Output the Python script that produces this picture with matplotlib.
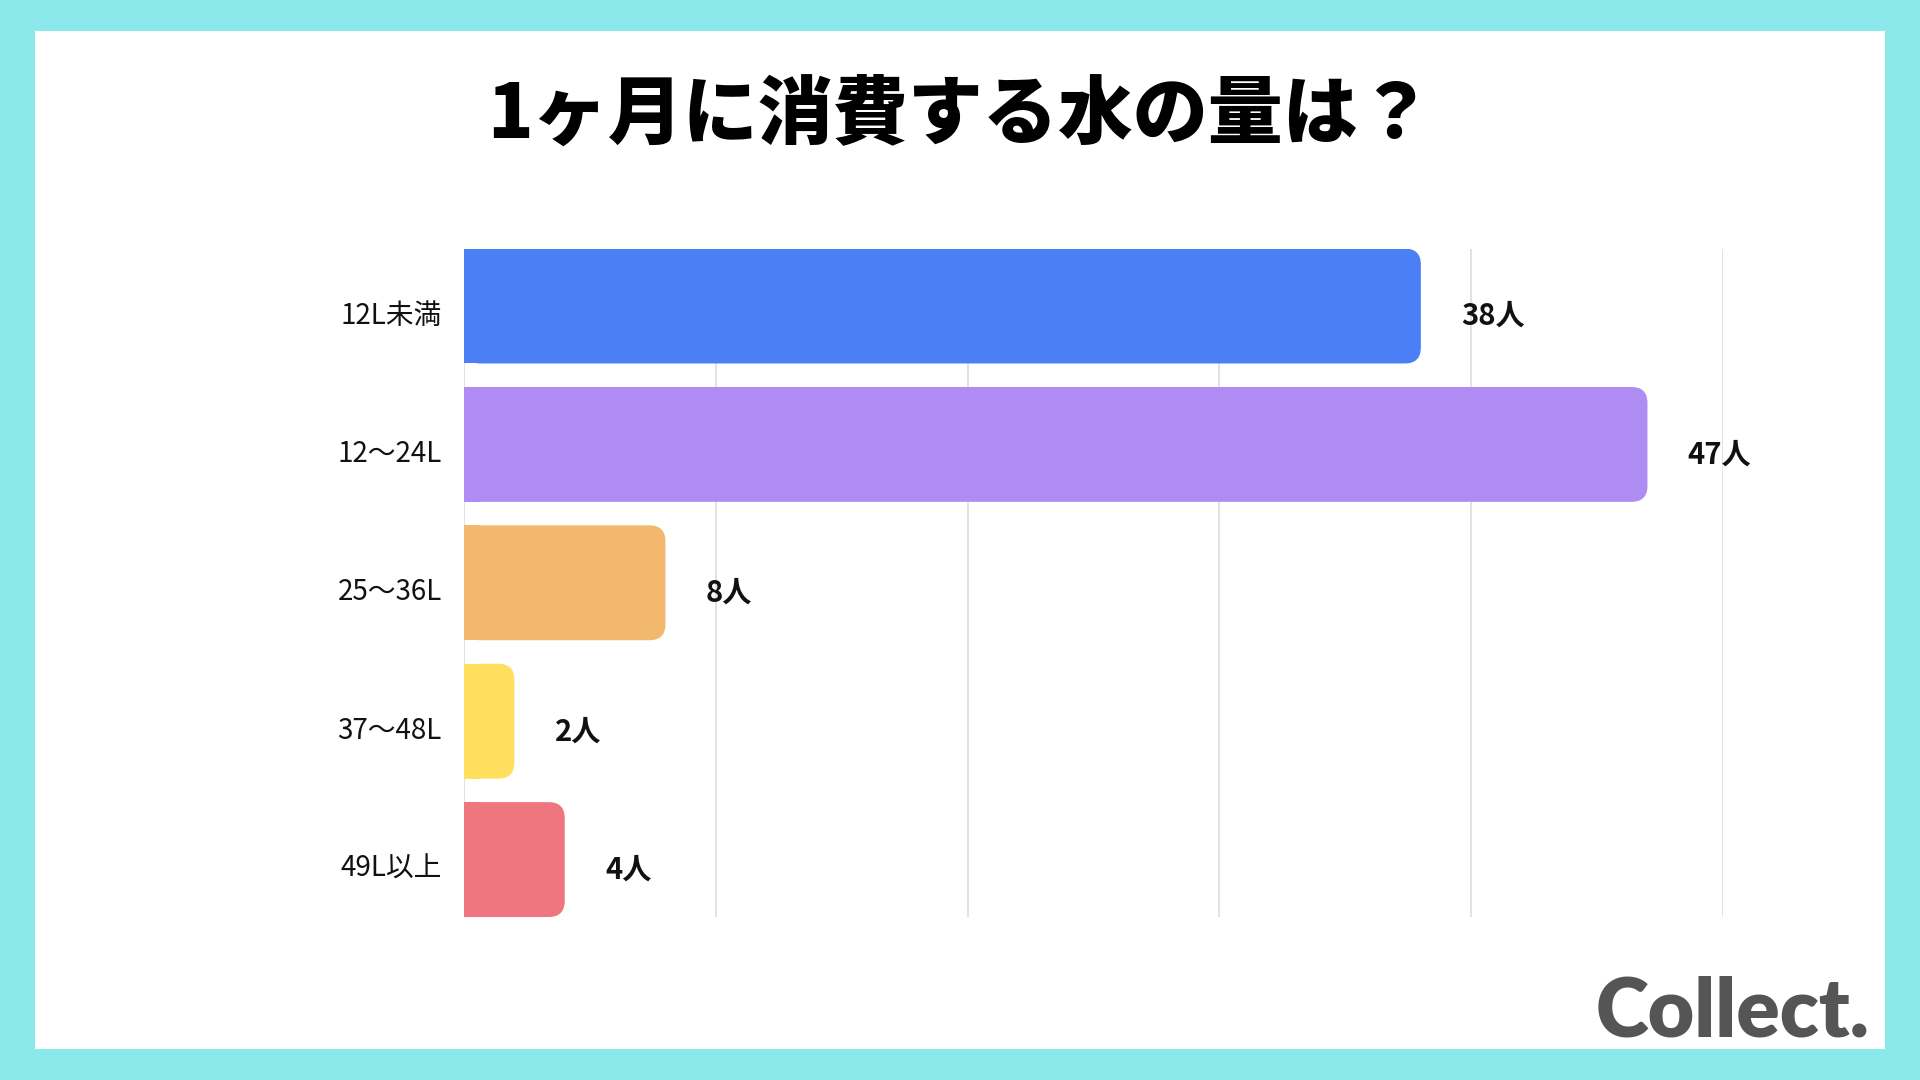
import matplotlib
matplotlib.use("Agg")
import matplotlib.pyplot as plt
import matplotlib.transforms as mtransforms
from matplotlib.patches import FancyBboxPatch, Rectangle

plt.rcParams['font.family'] = ['Noto Sans CJK JP', 'DejaVu Sans']

# ── データ ──
categories = ["12L未満", "12〜24L", "25〜36L", "37〜48L", "49L以上"]
counts = [38, 47, 8, 2, 4]
colors = ["#4A7FF6", "#AE8CF3", "#F2B86D", "#FFDF5D", "#EF757E"]
title = "1ヶ月に消費する水の量は？"
unit = "人"

W, H, DPI = 1920, 1080, 100
fig = plt.figure(figsize=(W / DPI, H / DPI), dpi=DPI, facecolor="#8BE9EC")

# 白い背景パネル
fig.patches.append(Rectangle((35 / W, 1 - 1049 / H), (1885 - 35) / W, (1049 - 31) / H,
                             transform=fig.transFigure, facecolor="white",
                             edgecolor="none", zorder=-5))

ax_l, ax_r, ax_t, ax_b = 464, 1723, 248.6, 917
ax = fig.add_axes([ax_l / W, 1 - ax_b / H, (ax_r - ax_l) / W, (ax_b - ax_t) / H])
ax.set_facecolor("none")

bar_h = 0.83
xmax = 50
ax.set_xlim(0, xmax)
ax.set_ylim(len(categories) - 1 + bar_h / 2, -bar_h / 2)

# 角丸半径（ピクセル→データ単位）
px_per_x = (ax_r - ax_l) / xmax
px_per_y = (ax_b - ax_t) / (len(categories) - 1 + bar_h)
r_px = 16
rx = r_px / px_per_x
aspect = px_per_x / px_per_y

bars = ax.barh(range(len(categories)), counts, height=bar_h, color=colors)
for b, c in zip(bars, colors):
    x0, y0 = b.get_x(), b.get_y()
    w, h = b.get_width(), b.get_height()
    b.set_visible(False)
    ax.add_patch(FancyBboxPatch((x0, y0), w, h,
                                boxstyle=f"round,pad=0,rounding_size={rx}",
                                mutation_aspect=aspect, facecolor=c,
                                edgecolor="none", zorder=3))
    ax.add_patch(Rectangle((x0, y0), min(rx, w), h, facecolor=c,
                           edgecolor="none", zorder=3))

# テキストを少し下げる（CJKフォントの中央揃え補正）
shift_tick = mtransforms.ScaledTranslation(0, -6 / DPI, fig.dpi_scale_trans)
shift_val = mtransforms.ScaledTranslation(0, -10 / DPI, fig.dpi_scale_trans)

for i, v in enumerate(counts):
    ax.text(v + 1.6, i, f"{v}{unit}", va="center", ha="left",
            fontsize=21, fontweight="bold", color="#111111", zorder=4,
            transform=ax.transData + shift_val)

ax.set_xticks(range(0, xmax + 1, 10))
ax.xaxis.grid(True, color="#DDDDDD", linewidth=1.2)
ax.set_axisbelow(True)
ax.tick_params(axis="x", length=0, labelbottom=False)
ax.set_yticks(range(len(categories)))
ax.set_yticklabels(categories, fontsize=20, color="#111111")
ax.tick_params(axis="y", length=0, pad=16)
for lbl in ax.get_yticklabels():
    lbl.set_transform(lbl.get_transform() + shift_tick)
for s in ax.spines.values():
    s.set_visible(False)

fig.text(0.5, 1 - 115 / H, title, ha="center", va="center",
         fontsize=54, fontweight="black", color="#000000")

fig.text(1870 / W, 1 - 1013 / H, "Collect.", ha="right", va="center",
         fontsize=58, fontweight="heavy", color="#555555",
         family=["Lato", "DejaVu Sans"])

plt.savefig("out.png", dpi=DPI, facecolor=fig.get_facecolor())
